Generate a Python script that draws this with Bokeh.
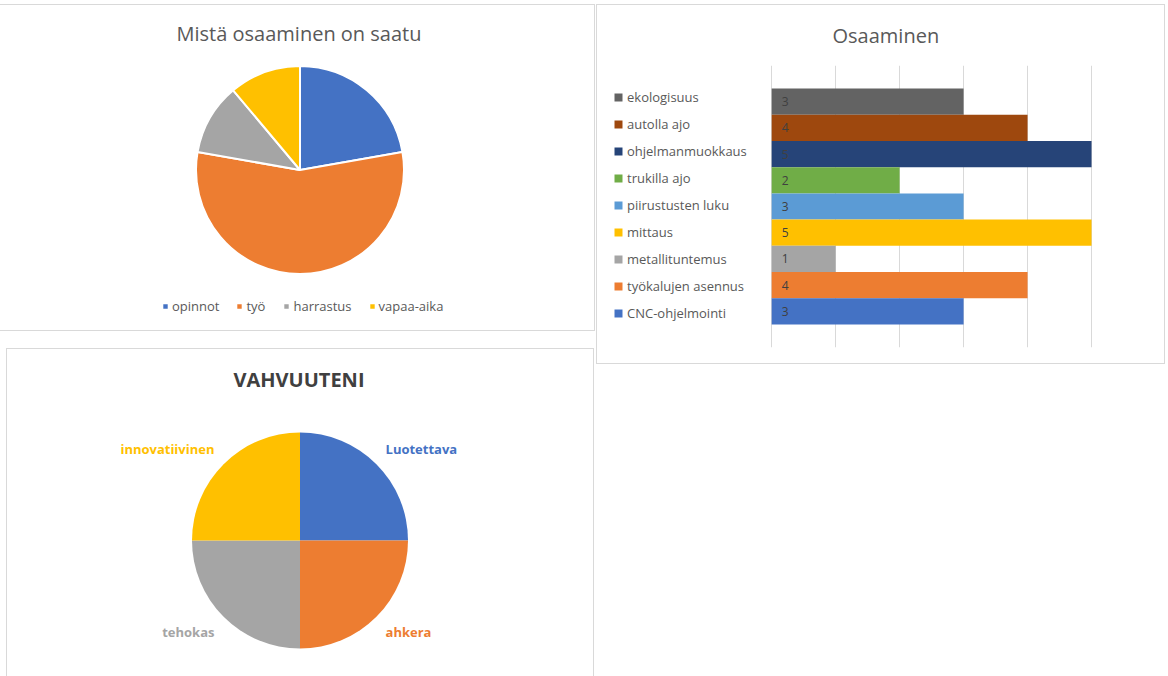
import numpy as np
from bokeh.plotting import figure
from bokeh.models import (ColumnDataSource, Range1d, FactorRange, Legend, LegendItem,
                          Label, FixedTicker, Grid, Spacer)
from bokeh.layouts import row, column
from bokeh.embed import file_html
from bokeh.resources import INLINE
from bokeh.core.properties import value

FONT = "Open Sans"
BORDER = {"outline": "1px solid #d9d9d9"}

# ---------------- data ----------------
# Chart 1: Mistä osaaminen on saatu
source_labels = ["opinnot", "työ", "harrastus", "vapaa-aika"]
source_values = [2, 5, 1, 1]
source_colors = ["#4472c4", "#ed7d31", "#a5a5a5", "#ffc000"]

# Chart 2: Osaaminen
skill_labels = ["ekologisuus", "autolla ajo", "ohjelmanmuokkaus", "trukilla ajo",
                "piirustusten luku", "mittaus", "metallituntemus",
                "työkalujen asennus", "CNC-ohjelmointi"]
skill_values = [3, 4, 5, 2, 3, 5, 1, 4, 3]
skill_colors = ["#636363", "#9e480e", "#264478", "#70ad47", "#5b9bd5",
                "#ffc000", "#a5a5a5", "#ed7d31", "#4472c4"]
skill_ticks = [0, 1, 2, 3, 4, 5, 6]

# Chart 3: VAHVUUTENI
strength_labels = ["Luotettava", "ahkera", "tehokas", "innovatiivinen"]
strength_values = [1, 1, 1, 1]
strength_colors = ["#4472c4", "#ed7d31", "#a5a5a5", "#ffc000"]


def pie_angles(vals):
    c = np.cumsum([0] + list(vals)) / float(sum(vals))
    start = np.pi / 2 - 2 * np.pi * c[1:]
    end = np.pi / 2 - 2 * np.pi * c[:-1]
    return start, end, (start + end) / 2


def blank_fig(w, h):
    p = figure(width=w, height=h, x_range=Range1d(0, w), y_range=Range1d(0, h),
               output_backend="svg", toolbar_location=None,
               x_axis_location=None, y_axis_location=None,
               min_border=0, min_border_left=0, min_border_right=0,
               min_border_top=0, min_border_bottom=0)
    p.grid.visible = False
    p.outline_line_color = None
    p.background_fill_color = "white"
    p.border_fill_color = "white"
    p.styles = BORDER
    return p


# ---------------- chart 1 ----------------
WA, HA = 594, 325
pa = blank_fig(WA, HA)
sa, ea, ma = pie_angles(source_values)
src_a = ColumnDataSource(dict(label=source_labels, value=source_values,
                              color=source_colors, start=sa, end=ea))
wa = pa.wedge(x=299.5, y=160.5, radius=104, start_angle="start", end_angle="end",
              fill_color="color", line_color="white", line_width=2, source=src_a)
pa.add_layout(Label(x=298.5, y=297, text="Mistä osaaminen on saatu",
                    text_align="center", text_baseline="middle",
                    text_font=FONT, text_font_size="20px", text_color="#595959"))
leg_a = Legend(items=[LegendItem(label=l, renderers=[wa], index=i)
                      for i, l in enumerate(source_labels)],
               orientation="horizontal", location=(161, 14), margin=0,
               padding=0, spacing=16, glyph_width=8, glyph_height=8,
               label_standoff=3, label_height=20,
               label_text_font=FONT, label_text_font_size="13px",
               label_text_color="#595959", border_line_color=None,
               background_fill_alpha=0)
pa.add_layout(leg_a)

# ---------------- chart 3 ----------------
WC, HC = 586, 327
pc = blank_fig(WC, HC)
sc, ec, mc = pie_angles(strength_values)
cx, cy, rc = 292.5, 136.0, 108.0
src_c = ColumnDataSource(dict(label=strength_labels, value=strength_values,
                              color=strength_colors, start=sc, end=ec))
pc.wedge(x=cx, y=cy, radius=rc, start_angle="start", end_angle="end",
         fill_color="color", line_color=None, source=src_c)
lab_c = ColumnDataSource(dict(
    x=cx + 1.12 * rc * np.cos(mc), y=cy + 1.08 * rc * np.sin(mc),
    text=strength_labels, color=strength_colors,
    align=["left" if np.cos(m) > 0 else "right" for m in mc],
    base=["bottom" if np.sin(m) > 0 else "top" for m in mc]))
pc.text(x="x", y="y", text="text", text_color="color", text_align="align",
        text_baseline="base", text_font=value(FONT), text_font_size="13px",
        text_font_style="bold", source=lab_c)
pc.add_layout(Label(x=291.5, y=297, text="VAHVUUTENI", text_align="center",
                    text_baseline="middle", text_font=FONT, text_font_size="20px",
                    text_font_style="bold", text_color="#404040"))

# ---------------- chart 2 ----------------
WB, HB = 567, 358
pb = figure(width=WB, height=HB, x_range=Range1d(-2.66, 6),
            y_range=FactorRange(factors=list(reversed(skill_labels)),
                                range_padding=0.88, range_padding_units="absolute"),
            output_backend="svg", toolbar_location=None,
            x_axis_location=None, y_axis_location=None,
            min_border_left=4, min_border_right=9, min_border_top=60,
            min_border_bottom=16, title="Osaaminen")
pb.title.align = "left"
pb.title.offset = 231
pb.title.standoff = 30
pb.title.vertical_align = "top"
pb.title.text_font = FONT
pb.title.text_font_size = "20px"
pb.title.text_font_style = "normal"
pb.title.text_color = "#595959"
pb.grid.visible = False
pb.outline_line_color = None
pb.styles = BORDER
pb.add_layout(Grid(dimension=0, ticker=FixedTicker(ticks=skill_ticks),
                   grid_line_color="#d9d9d9", grid_line_width=1))
src_b = ColumnDataSource(dict(label=skill_labels, value=skill_values,
                              color=skill_colors,
                              vtext=[str(v) for v in skill_values]))
rb = pb.hbar(y="label", left=0, right="value", height=1.0, fill_color="color",
             line_color=None, source=src_b)
pb.text(x=0, y="label", text="vtext", x_offset=10, text_baseline="middle",
        text_font=value(FONT), text_font_size="12px", text_color="#404040",
        source=src_b)
leg_b = Legend(items=[LegendItem(label=l, renderers=[rb], index=i)
                      for i, l in enumerate(skill_labels)],
               location=(12, 24), orientation="vertical", padding=0, margin=0,
               spacing=7, glyph_width=10, glyph_height=10, label_standoff=4,
               label_height=20, label_text_font=FONT, label_text_font_size="13px",
               label_text_color="#595959", border_line_color=None,
               background_fill_alpha=0)
pb.add_layout(leg_b)

layout = column(Spacer(height=5),
                row(column(pa, row(Spacer(width=7), pc), spacing=19), pb, spacing=3))
open("out.html", "w").write(file_html(layout, INLINE))
